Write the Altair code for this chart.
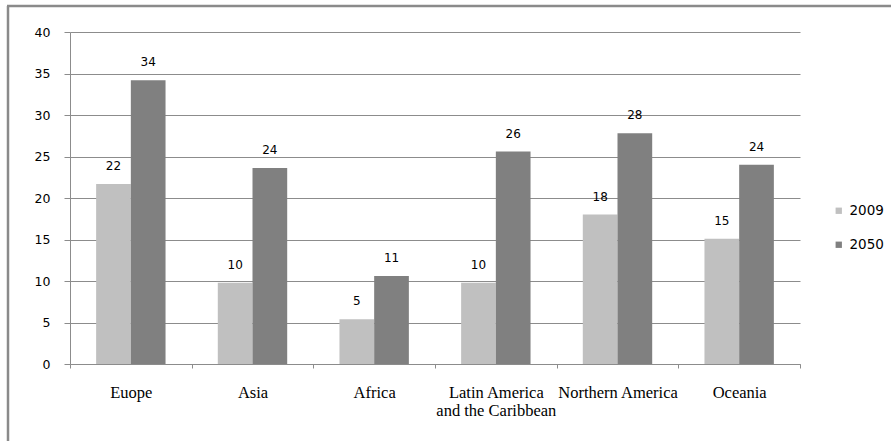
import altair as alt
import pandas as pd

regions = ["Euope", "Asia", "Africa", "Latin America and the Caribbean",
           "Northern America", "Oceania"]
years = ["2009", "2050"]
v2009 = [21.7, 9.8, 5.4, 9.8, 18.0, 15.1]
v2050 = [34.2, 23.6, 10.6, 25.6, 27.8, 24.0]
y_ticks = [0, 5, 10, 15, 20, 25, 30, 35, 40]
colors = ["#c0c0c0", "#808080"]

rows = []
for i, r in enumerate(regions):
    rows.append({"region": r, "year": years[0], "value": v2009[i]})
    rows.append({"region": r, "year": years[1], "value": v2050[i]})
df = pd.DataFrame(rows)

GRID = "#8c8c8c"

x_enc = alt.X(
    "region:N", sort=regions,
    scale=alt.Scale(paddingInner=0, paddingOuter=0),
    axis=alt.Axis(
        title=None, labelAngle=0, tickBand="extent", ticks=True, tickSize=4,
        tickColor=GRID, domainColor=GRID, labelFont="Liberation Serif",
        labelFontSize=16.5, labelColor="#000000", labelPadding=16,
        labelLineHeight=18, labelBaseline="top",
        labelExpr="datum.label == 'Latin America and the Caribbean' ? ['Latin America', 'and the Caribbean'] : datum.label",
    ),
)
xoff = alt.XOffset("year:N", sort=years,
                   scale=alt.Scale(paddingInner=0, paddingOuter=0.753))
y_enc = alt.Y(
    "value:Q", scale=alt.Scale(domain=[0, 40], nice=False),
    axis=alt.Axis(
        title=None, values=y_ticks, grid=True, gridColor=GRID, gridWidth=1,
        domainColor=GRID, tickColor=GRID, tickSize=6, labelPadding=14,
        labelFont="DejaVu Sans", labelFontSize=12.5, labelColor="#000000",
    ),
)

base = alt.Chart(df)

bars = base.mark_bar().encode(
    x=x_enc, xOffset=xoff, y=y_enc,
    color=alt.Color(
        "year:N", sort=years,
        scale=alt.Scale(domain=years, range=colors),
        legend=alt.Legend(
            title=None, orient="none", legendX=762, legendY=172,
            symbolType="square", symbolSize=40, symbolStrokeWidth=0,
            labelFont="DejaVu Sans", labelFontSize=13.5, labelColor="#000000",
            labelOffset=4, rowPadding=19,
        ),
    ),
)

labels = base.mark_text(
    baseline="bottom", dy=-11, font="DejaVu Sans", fontSize=12, color="#000000"
).encode(
    x=alt.X("region:N", sort=regions), xOffset=alt.XOffset("year:N", sort=years),
    y="value:Q",
    text=alt.Text("value:Q", format=".0f"),
)

frame_df = pd.DataFrame({"k": [0]})
left_border = alt.Chart(frame_df).mark_rule(color="#8a8a8a", strokeWidth=2.5).encode(
    x=alt.value(-62), y=alt.value(-26), y2=alt.value(420)
)
top_border = alt.Chart(frame_df).mark_rule(color="#8a8a8a", strokeWidth=2.5).encode(
    y=alt.value(-26), x=alt.value(-63), x2=alt.value(830)
)

chart = alt.layer(bars, labels, left_border, top_border).properties(
    width=730, height=332,
    padding={"left": 70, "top": 32, "right": 91, "bottom": 77},
    autosize=alt.AutoSizeParams(type="none"),
    background="white",
).configure_view(stroke=None)

chart.save("out.html", embed_options={"renderer": "svg", "actions": False})
